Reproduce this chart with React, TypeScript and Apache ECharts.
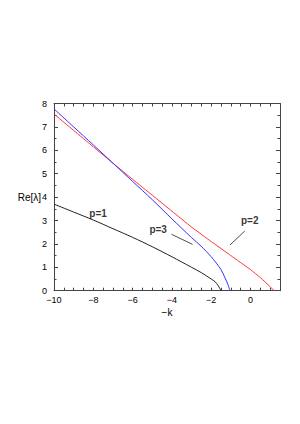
import React, { useEffect, useRef } from "react";
import * as echarts from "echarts";

// Data
const P1_K = [-10, -9, -8, -7, -6, -5, -4, -3, -2.5, -2, -1.8, -1.65, -1.55, -1.5];
const P1_RE = [3.7, 3.36, 3.02, 2.65, 2.28, 1.88, 1.45, 1.0, 0.77, 0.5, 0.38, 0.22, 0.08, 0];

const P2_K = [-10, -9, -8, -7, -6, -5, -4, -3, -2, -1, 0, 0.5, 1, 1.2];
const P2_RE = [7.55, 6.85, 6.15, 5.45, 4.76, 4.08, 3.4, 2.72, 2.1, 1.5, 0.9, 0.56, 0.17, 0];

const P3_K = [-10, -9, -8, -7, -6, -5, -4, -3, -2.5, -2, -1.5, -1.3, -1.15, -1.05];
const P3_RE = [7.77, 7.0, 6.23, 5.45, 4.67, 3.89, 3.07, 2.27, 1.89, 1.45, 0.9, 0.55, 0.27, 0];

const X_TICK_LABELS = [-10, -8, -6, -4, -2, 0];
const Y_TICK_LABELS = [0, 1, 2, 3, 4, 5, 6, 7, 8];

const LABELS = [
  { text: "p=1", k: -7.76, re: 3.28 },
  { text: "p=3", k: -4.7, re: 2.63 },
  { text: "p=2", k: -0.04, re: 2.98 },
];
const LEADER_P2 = [[-1.05, 1.95], [-0.29, 2.55]];
const LEADER_P3 = [[-4.02, 2.41], [-2.95, 1.98]];

const zip = (a: number[], b: number[]) => a.map((v, i) => [v, b[i]]);
const fmtNum = (v: number) => String(v).replace("-", "\u2212");

export default function App() {
  const ref = useRef<HTMLDivElement>(null);
  useEffect(() => {
    if (!ref.current) return;
    const chart = echarts.init(ref.current, undefined, { renderer: "svg" });
    const font = "'Liberation Sans', Arial, Helvetica, sans-serif";
    const axisColor = "#444";
    const baseX = {
      type: "value",
      min: -10,
      max: 1.5,
      interval: 0.5,
      splitLine: { show: false },
      axisLine: { show: true, onZero: false, lineStyle: { color: axisColor, width: 1 } },
      axisTick: { show: true, inside: true, length: 3, lineStyle: { color: axisColor } },
    };
    const baseY = {
      type: "value",
      min: 0,
      max: 8,
      interval: 1,
      splitLine: { show: false },
      axisLine: { show: true, onZero: false, lineStyle: { color: axisColor, width: 1 } },
      axisTick: { show: true, inside: true, length: 4, lineStyle: { color: axisColor } },
      minorTick: { show: true, splitNumber: 2, length: 2.5, lineStyle: { color: axisColor } },
    };
    chart.setOption({
      animation: false,
      grid: { left: 54, right: 20, top: 103.5, bottom: 133.3, containLabel: false },
      xAxis: [
        {
          ...baseX,
          position: "bottom",
          name: "\u2212k",
          nameLocation: "middle",
          nameGap: 17,
          nameMoveOverlap: false,
          nameTextStyle: { color: "#000", fontSize: 10, fontFamily: font },
          axisLabel: {
            show: true,
            margin: 5,
            color: "#000",
            fontSize: 9,
            fontFamily: font,
            formatter: (v: number) => (X_TICK_LABELS.includes(v) ? fmtNum(v) : ""),
          },
        },
        { ...baseX, position: "top", axisLabel: { show: false } },
      ],
      yAxis: [
        {
          ...baseY,
          position: "left",
          name: "Re[\u03bb]",
          nameLocation: "middle",
          nameRotate: 0,
          nameGap: 13,
          nameMoveOverlap: false,
          nameTextStyle: { color: "#000", fontSize: 10, fontFamily: font, align: "right" },
          axisLabel: {
            show: true,
            margin: 7,
            color: "#000",
            fontSize: 9,
            fontFamily: font,
            formatter: (v: number) => (Y_TICK_LABELS.includes(v) ? fmtNum(v) : ""),
          },
        },
        { ...baseY, position: "right", axisLabel: { show: false } },
      ],
      series: [
        {
          name: "p=1",
          type: "line",
          data: zip(P1_K, P1_RE),
          showSymbol: false,
          symbol: "none",
          smooth: 0.3,
          lineStyle: { color: "#222", width: 1 },
        },
        {
          name: "p=2",
          type: "line",
          data: zip(P2_K, P2_RE),
          showSymbol: false,
          symbol: "none",
          smooth: 0.15,
          lineStyle: { color: "#ff3333", width: 1 },
        },
        {
          name: "p=3",
          type: "line",
          data: zip(P3_K, P3_RE),
          showSymbol: false,
          symbol: "none",
          smooth: 0.3,
          lineStyle: { color: "#3333ff", width: 1 },
        },
        {
          name: "leader2",
          type: "line",
          data: LEADER_P2,
          symbol: "none",
          lineStyle: { color: "#222", width: 0.8 },
        },
        {
          name: "leader3",
          type: "line",
          data: LEADER_P3,
          symbol: "none",
          lineStyle: { color: "#222", width: 0.8 },
        },
        {
          name: "labels",
          type: "scatter",
          symbolSize: 0,
          data: LABELS.map((l) => [l.k, l.re, l.text]),
          label: {
            show: true,
            position: "inside",
            formatter: (p: any) => p.data[2],
            color: "#000",
            fontSize: 10,
            fontWeight: "bold",
            fontFamily: font,
          },
        },
      ],
    });
    return () => chart.dispose();
  }, []);
  return (
    <div
      ref={ref}
      style={{ position: "absolute", left: 0, top: 0, width: 300, height: 424, background: "#fff" }}
    />
  );
}
